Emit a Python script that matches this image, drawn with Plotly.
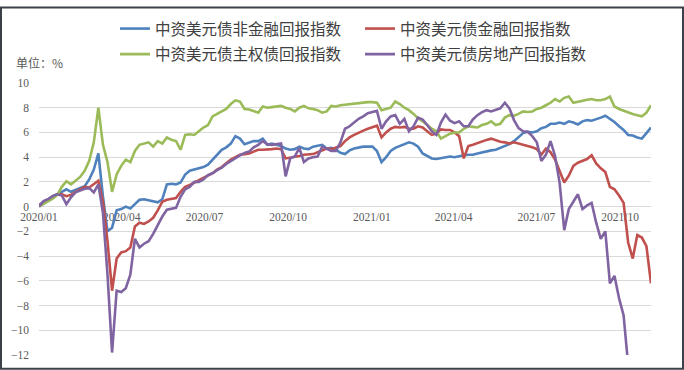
import pandas as pd
import plotly.graph_objects as go

# ---------------- data ----------------
start_date = "2020-01-01"
end_date = "2021-11-04"
n_points = 135
dates = pd.date_range(start_date, end_date, periods=n_points)

series_names = [
    "中资美元债非金融回报指数",
    "中资美元债金融回报指数",
    "中资美元债主权债回报指数",
    "中资美元债房地产回报指数",
]

nonfin = [
    0.1, 0.4, 0.6, 0.85, 1.0, 1.2, 1.4, 1.2, 1.35, 1.5,
    1.65, 2.2, 3.0, 4.3, 0.8, -2.0, -1.7, -0.3, -0.2, 0.0,
    -0.15, 0.2, 0.55, 0.6, 0.5, 0.45, 0.35, 0.6, 1.8, 1.85,
    1.8, 1.95, 2.6, 2.9, 3.0, 3.1, 3.2, 3.4, 3.8, 4.2,
    4.6, 4.8, 5.1, 5.7, 5.5, 5.05, 5.2, 5.3, 5.3, 5.5,
    5.0, 5.1, 5.0, 4.9, 4.7, 4.6, 4.65, 4.85, 4.7, 4.65,
    4.85, 4.9, 5.0, 4.7, 4.75, 4.6, 4.35, 4.25, 4.55, 4.7,
    4.8, 4.85, 4.85, 4.85, 4.5, 3.6, 4.0, 4.5, 4.75, 4.9,
    5.1, 5.2, 5.1, 4.85, 4.3, 4.1, 3.9, 3.85, 3.9, 3.95,
    4.05, 4.0, 4.1, 4.15, 4.2, 4.2, 4.3, 4.4, 4.5, 4.55,
    4.6, 4.75, 4.95, 5.05, 5.3, 5.6, 5.95, 6.05, 6.0, 6.1,
    6.35, 6.45, 6.7, 6.7, 6.8, 6.7, 6.9, 6.8, 6.65, 6.9,
    7.0, 6.95, 7.05, 7.2, 7.35, 7.1, 6.85, 6.5, 6.2, 5.8,
    5.75, 5.6, 5.5, 5.95, 6.4,
]

fin = [
    0.1, 0.35, 0.55, 0.8, 1.0, 1.0, 0.85, 0.95, 1.2, 1.4,
    1.6, 1.55, 1.8, 2.1, 0.4, -2.8, -6.8, -4.2, -3.7, -3.6,
    -3.3, -1.6, -1.3, -1.4, -1.2, -0.9, -0.3, 0.4, 0.55, 0.6,
    0.7, 1.2, 1.6, 1.75, 1.95, 2.1, 2.35, 2.5, 2.7, 3.0,
    3.2, 3.5, 3.8, 4.0, 4.2, 4.25, 4.3, 4.45, 4.6, 4.6,
    4.6, 4.65, 4.7, 4.65, 3.9, 3.95, 4.05, 4.1, 4.2, 4.2,
    4.25, 4.4, 4.55, 4.7, 4.65, 4.75, 4.9, 5.3, 5.6, 5.8,
    6.0, 6.15, 6.3, 6.45, 6.55, 5.6, 6.0, 6.3, 6.45, 6.4,
    6.45, 6.3, 6.3, 6.5, 6.4, 6.1, 5.8, 5.9, 6.25, 6.2,
    6.2, 6.0, 5.7, 3.9, 4.9, 5.0, 5.15, 5.25, 5.4, 5.5,
    5.35, 5.25, 5.2, 5.1, 5.2, 5.1, 5.0, 4.95, 4.8, 4.65,
    4.2, 4.7, 4.4, 3.8, 2.8, 1.95, 2.5, 3.3, 3.55, 3.7,
    3.85, 4.15, 3.5, 3.1, 2.8, 1.6, 1.4, 0.9, 0.3, -2.9,
    -4.2, -2.3, -2.5, -3.2, -6.2,
]

sovereign = [
    0.0, 0.2, 0.45, 0.65, 0.95, 1.6, 2.05, 1.8, 2.1, 2.4,
    2.9, 3.7, 5.2, 8.0, 5.0, 3.6, 1.2, 2.6, 3.3, 3.8,
    3.6, 4.5, 5.0, 5.1, 5.2, 4.85, 5.3, 5.1, 5.6, 5.4,
    5.3, 4.6, 5.8, 5.85, 5.8, 6.1, 6.4, 6.6, 7.3, 7.5,
    7.7, 7.9, 8.3, 8.6, 8.5, 7.9, 7.85, 7.7, 7.6, 8.1,
    8.0, 8.05, 8.1, 8.15, 8.0, 7.9, 7.7, 8.0, 8.15, 7.95,
    7.9, 7.8, 7.6, 7.7, 8.15, 8.1, 8.2, 8.25, 8.3, 8.3,
    8.35, 8.4, 8.45, 8.45, 8.4, 7.8, 7.9, 8.0, 8.5, 8.3,
    8.0, 7.8, 7.5, 7.15, 6.9, 6.6, 6.3, 6.1, 5.5, 5.7,
    5.9, 6.0, 6.0, 6.3, 6.5, 6.45, 6.4, 6.6, 6.7, 6.9,
    6.6, 6.7, 7.2, 7.4, 7.35, 7.5, 7.7, 7.65, 7.7, 7.9,
    8.0, 8.2, 8.4, 8.7, 8.5, 8.8, 8.9, 8.4, 8.5, 8.6,
    8.65, 8.7, 8.6, 8.6, 8.7, 8.9, 8.1, 7.9, 7.75, 7.6,
    7.5, 7.4, 7.3, 7.6, 8.2,
]

realestate = [
    0.0, 0.45, 0.6, 0.85, 1.0, 0.9, 0.2, 0.75, 1.15, 1.3,
    1.45, 1.5, 1.15, 1.8, -0.5, -5.5, -11.8, -6.8, -6.9, -6.6,
    -5.5, -2.6, -3.3, -3.0, -2.8, -2.2, -1.45, -0.8, -0.25, -0.2,
    -0.1, 0.8, 1.4, 1.6, 2.0, 2.0, 2.2, 2.55, 2.7, 2.95,
    3.15, 3.45, 3.7, 3.95, 4.15, 4.35, 4.45, 4.8, 5.0, 5.3,
    5.05, 5.0, 5.05, 5.1, 2.45, 3.9, 4.05, 4.75, 3.6, 3.9,
    4.0, 4.05, 4.85, 4.65, 4.5, 4.5, 5.2, 6.3, 6.5, 6.8,
    7.1, 7.3, 7.55, 7.65, 7.75, 6.3, 6.9, 7.3, 7.4, 6.7,
    7.1, 6.1, 6.5, 7.2, 7.05, 6.6, 6.1, 5.8, 6.8, 7.45,
    6.95, 6.75, 6.9, 6.5, 6.5, 7.05, 7.4, 7.65, 7.8, 7.7,
    7.85, 7.95, 8.4, 7.95, 7.0, 6.35, 6.1, 6.05, 5.7, 5.2,
    3.7, 4.2, 5.3, 4.1, 1.9, -1.9, -0.2, 0.45, 1.0, -0.2,
    0.1, 0.3, -1.3, -2.6, -2.0, -6.2, -5.6, -7.4, -8.8, -12.8,
    None, None, None, None, None,
]

tick_dates = ["2020-01-01", "2020-04-01", "2020-07-01", "2020-10-01",
              "2021-01-01", "2021-04-01", "2021-07-01", "2021-10-01"]
tick_labels = ["2020/01", "2020/04", "2020/07", "2020/10",
               "2021/01", "2021/04", "2021/07", "2021/10"]
y_min, y_max = -12, 10
unit_label = "单位：%"

# ---------------- styling ----------------
W, H = 684, 370
ML, MR, MT, MB = 39, 33, 78, 15
PW, PH = W - ML - MR, H - MT - MB

colors = ["#4F81BD", "#C0504D", "#9BBB59", "#8064A2"]
legend_ids = ["legend", "legend", "legend2", "legend2"]
values = [nonfin, fin, sovereign, realestate]

fig = go.Figure()
for name, vals, col, lg in zip(series_names, values, colors, legend_ids):
    fig.add_trace(go.Scatter(
        x=dates, y=vals, name=name, mode="lines",
        line=dict(color=col, width=2.6),
        legend=lg, connectgaps=False,
    ))

def py2paper(py):
    return (H - MB - py) / PH

def px2paper(px):
    return (px - ML) / PW

legend_font = dict(family="Noto Sans CJK SC", size=15.5, color="#404040")
legend_common = dict(
    orientation="h", xanchor="left", yanchor="middle",
    x=px2paper(115), font=legend_font, bgcolor="rgba(0,0,0,0)",
    entrywidth=200, entrywidthmode="pixels", itemwidth=30,
    traceorder="normal",
)

fig.update_layout(
    width=W, height=H,
    margin=dict(l=ML, r=MR, t=MT, b=MB, pad=0),
    paper_bgcolor="white", plot_bgcolor="white",
    showlegend=True,
    legend=dict(y=py2paper(23), **legend_common),
    legend2=dict(y=py2paper(49), **legend_common),
    xaxis=dict(
        type="date", range=[start_date, end_date],
        tickmode="array", tickvals=tick_dates, ticktext=tick_labels,
        showgrid=False, zeroline=False, showline=False, ticks="",
        anchor="free", position=(0 - y_min) / (y_max - y_min),
        layer="below traces", ticklabelstandoff=2, automargin=False,
        tickfont=dict(family="Liberation Serif", size=11.5, color="#595959"),
    ),
    yaxis=dict(
        range=[y_min, y_max], dtick=2, tick0=0,
        showgrid=True, gridcolor="#D9D9D9", gridwidth=1,
        zeroline=False, showline=False, ticks="",
        ticklabelstandoff=9, automargin=False,
        tickfont=dict(family="Liberation Serif", size=11.5, color="#595959"),
    ),
    annotations=[dict(
        text=unit_label, xref="paper", yref="paper",
        x=px2paper(14), y=py2paper(57), xanchor="left", yanchor="middle",
        showarrow=False,
        font=dict(family="Noto Sans CJK SC", size=12, color="#595959"),
    )],
    shapes=[dict(
        type="rect", xref="paper", yref="paper", layer="above",
        x0=px2paper(1), x1=px2paper(W - 1),
        y0=py2paper(H - 1), y1=py2paper(1),
        line=dict(color="#3C4049", width=2), fillcolor="rgba(0,0,0,0)",
    )],
)

fig.write_html("out.html")
